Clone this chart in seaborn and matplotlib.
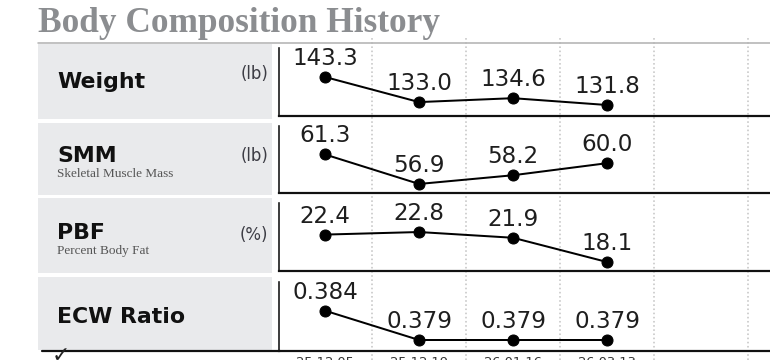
import matplotlib
matplotlib.use("Agg")
import matplotlib.pyplot as plt
import seaborn as sns
import numpy as np
import pandas as pd
from matplotlib.patches import Rectangle
from matplotlib.lines import Line2D

sns.set_theme(style="white")
plt.rcParams['font.family'] = ['DejaVu Sans']

# ---------------- data ----------------
dates = ["25.12.05", "25.12.19", "26.01.16", "26.03.13"]
weight = [143.3, 133.0, 134.6, 131.8]
smm = [61.3, 56.9, 58.2, 60.0]
pbf = [22.4, 22.8, 21.9, 18.1]
ecw = [0.384, 0.379, 0.379, 0.379]

row_names = ["Weight", "SMM", "PBF", "ECW Ratio"]
row_subs = ["", "Skeletal Muscle Mass", "Percent Body Fat", ""]
row_units = ["(lb)", "(lb)", "(%)", ""]
row_values = [weight, smm, pbf, ecw]
row_fmt = ["{:.1f}", "{:.1f}", "{:.1f}", "{:.3f}"]
title = "Body Composition History"

# ---------------- layout (pixels) ----------------
W, H = 770, 360
fig = plt.figure(figsize=(W / 100, H / 100), dpi=100)

def fx(x):
    return x / W

def fy(y):
    return 1 - y / H

def pt(px):
    return px * 0.72

# row geometry: gray box (top,bottom), axes (top,bottom), ylim
boxes = [(44, 119), (123, 195), (198, 273), (277, 350)]
axes_px = [(48, 115.5), (126, 193), (203, 270.5), (282, 350.5)]
ylims = [(127.49, 155.21), (55.55, 65.55), (16.77, 27.35), (0.377208, 0.388898)]
label_base = [88, 162, 239, 323]
sub_base = [None, 177, 254, None]
unit_center = [74, 156, 235, None]

ax_left, ax_right = 279, 770
xlim = (-0.49, -0.49 + (ax_right - ax_left) / 94.0)

# background axes for dotted column dividers
bg = fig.add_axes([fx(ax_left), fy(360), fx(ax_right - ax_left), (360 - 37) / H])
bg.set_xlim(*xlim)
bg.set_ylim(0, 1)
bg.axis("off")
n_cols = 6
for b in np.arange(n_cols) + 0.5:
    bg.axvline(b, color="#c6c6c6", lw=pt(1.6), ls=(0, (1, 1.6)), zorder=0)

# title and top rule
fig.text(fx(38), fy(32), title, family="Liberation Serif", fontweight="bold",
         fontsize=pt(35.2), color="#8b8d90", va="baseline", ha="left")
fig.add_artist(Line2D([fx(38), fx(770)], [fy(43), fy(43)], color="#b4b4b4", lw=pt(1.6)))

x_idx = np.arange(len(dates))

for i in range(4):
    # gray label panel
    bt, bb = boxes[i]
    fig.add_artist(Rectangle((fx(38), fy(bb)), fx(272 - 38), (bb - bt) / H,
                             facecolor="#e9eaec", edgecolor="none", zorder=0))
    fig.text(fx(57), fy(label_base[i]), row_names[i], fontweight="bold",
             fontsize=pt(22), color="#111111", va="baseline", ha="left")
    if row_subs[i]:
        fig.text(fx(57), fy(sub_base[i]), row_subs[i], family="Liberation Serif",
                 fontsize=pt(13.2), color="#555555", va="baseline", ha="left")
    if row_units[i]:
        fig.text(fx(268), fy(unit_center[i]), row_units[i], fontsize=pt(16.5),
                 color="#3c3c44", va="center", ha="right")

    at, ab = axes_px[i]
    ax = fig.add_axes([fx(ax_left), fy(ab), fx(ax_right - ax_left), (ab - at) / H])
    ax.patch.set_alpha(0)
    df = pd.DataFrame({"x": x_idx, "v": row_values[i]})
    sns.lineplot(data=df, x="x", y="v", ax=ax, color="black", lw=pt(2),
                 marker="o", markersize=pt(11), markeredgecolor="black",
                 markerfacecolor="black", clip_on=False)
    for xv, yv in zip(x_idx, row_values[i]):
        ax.annotate(row_fmt[i].format(yv), (xv, yv), xytext=(0, pt(12)),
                    textcoords="offset points", ha="center", va="baseline",
                    fontsize=pt(23), color="#1e1e1e", annotation_clip=False)
    ax.set_xlim(*xlim)
    ax.set_ylim(*ylims[i])
    ax.set_xlabel("")
    ax.set_ylabel("")
    ax.set_yticks([])
    for s in ["top", "right"]:
        ax.spines[s].set_visible(False)
    ax.spines["left"].set_color("#111111")
    ax.spines["left"].set_linewidth(pt(1.6))
    ax.spines["bottom"].set_color("#111111")
    ax.spines["bottom"].set_linewidth(pt(2.2))
    if i == 3:
        ax.set_xticks(x_idx)
        ax.set_xticklabels(dates, fontsize=pt(13), color="#333333")
        ax.tick_params(axis="x", length=0, pad=pt(5))
    else:
        ax.set_xticks([])

# bottom rule under the label column and check mark
fig.add_artist(Line2D([fx(42), fx(280)], [fy(350.8), fy(350.8)], color="#111111", lw=pt(2.2)))
fig.text(fx(52), fy(346), "\u2713", fontsize=pt(22), color="#222222", va="top", ha="left")

fig.savefig("out.png", dpi=100)
